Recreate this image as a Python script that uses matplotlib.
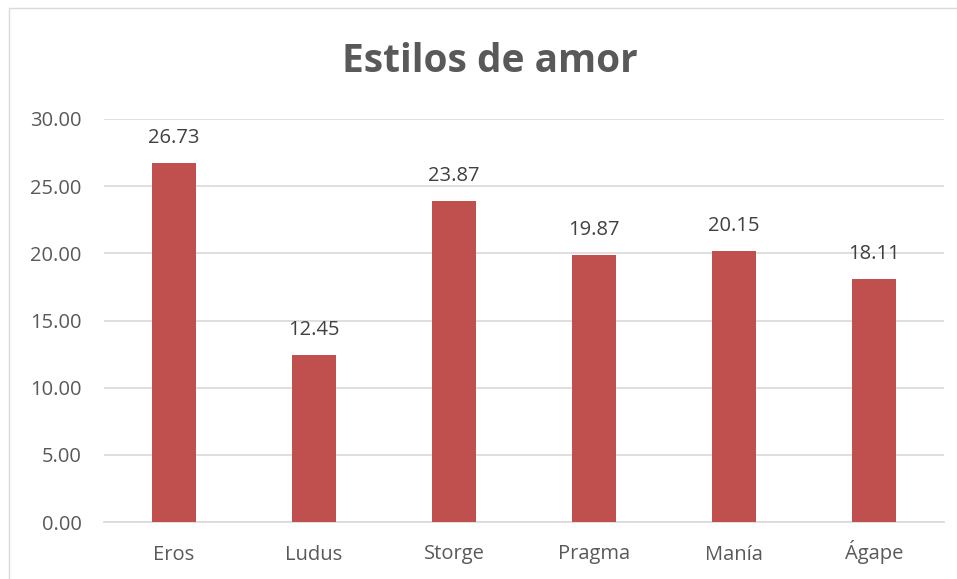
import matplotlib.pyplot as plt
import matplotlib.patches as mpatches

categorias = ['Eros', 'Ludus', 'Storge', 'Pragma', 'Manía', 'Ágape']
valores = [26.73, 12.45, 23.87, 19.87, 20.15, 18.11]
ticks_y = [0, 5, 10, 15, 20, 25, 30]

plt.rcParams['font.family'] = ['Open Sans', 'DejaVu Sans']

fig = plt.figure(figsize=(9.57, 5.79), dpi=100)

# borde del area del grafico
fig.patches.append(mpatches.Rectangle((9 / 957, -0.01), 1.02, 1 - 8 / 579 + 0.01,
                                      transform=fig.transFigure, fill=False,
                                      edgecolor='#D9D9D9', linewidth=1))

ax = fig.add_axes([104 / 957, 1 - 522 / 579, 840 / 957, (522 - 119) / 579])
x = range(len(categorias))
ax.bar(x, valores, width=0.31, color='#C0504D', zorder=3)

for i, v in enumerate(valores):
    ax.annotate(f'{v:.2f}', (i, v), xytext=(0, 15), textcoords='offset pixels',
                ha='center', va='bottom', fontsize=14.5, color='#404040')

ax.set_xlim(-0.5, len(categorias) - 0.5)
ax.set_ylim(0, 30)
ax.set_yticks(ticks_y)
ax.set_yticklabels([f'{t:.2f}' for t in ticks_y])
ax.set_xticks(list(x))
ax.set_xticklabels(categorias, va='baseline')
ax.tick_params(axis='both', length=0, labelsize=14.5, labelcolor='#595959')
ax.tick_params(axis='y', pad=16)
ax.tick_params(axis='x', pad=27)
ax.yaxis.grid(True, color='#D9D9D9', linewidth=1.2, zorder=0)
for s in ['top', 'right', 'left']:
    ax.spines[s].set_visible(False)
ax.spines['bottom'].set_color('#D9D9D9')
ax.spines['bottom'].set_linewidth(1.2)

fig.text(490 / 957, 1 - 61 / 579, 'Estilos de amor', ha='center', va='center',
         fontsize=28, fontweight='bold', color='#595959')

fig.savefig('out.png', dpi=100, facecolor='white')
